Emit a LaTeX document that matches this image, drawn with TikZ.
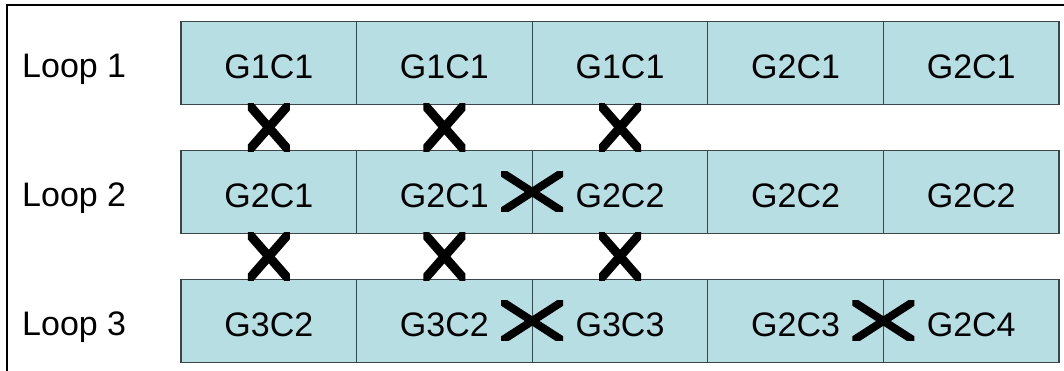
\documentclass[tikz,border=0pt]{standalone}
\usepackage{fontspec}
\setmainfont{Liberation Sans}
\usetikzlibrary{calc}
\definecolor{cellfill}{RGB}{183,222,227}
\definecolor{cellline}{RGB}{60,70,72}
\tikzset{
  cell/.style={draw=cellline, line width=1.3pt, fill=cellfill, minimum width=175.6pt,
    minimum height=83pt, inner sep=0pt, outer sep=0pt, anchor=center,
    text height=30.5pt, text depth=0pt,
    font=\fontsize{34}{40}\selectfont},
  looplabel/.style={anchor=base west, inner sep=0pt, font=\fontsize{34}{40}\selectfont},
  crossline/.style={line width=#1, line cap=butt, black},
  pics/xcross/.style n args={3}{code={
    \begin{scope}
      \clip (-#1,-#2) rectangle (#1,#2);
      \draw[crossline=#3] (-1.5*#1,-1.5*#2) -- (1.5*#1,1.5*#2)
                          (-1.5*#1,1.5*#2) -- (1.5*#1,-1.5*#2);
    \end{scope}}}
}
\begin{document}
\begin{tikzpicture}[x=1pt,y=1pt]
  \useasboundingbox (0,0) rectangle (1064,371);
  % frame (top and left edges)
  \draw[line width=2pt, black] (7,0) -- (7,366) -- (1064,366);

  % rows of cells
  \foreach \r/\yc/\a/\b/\c/\d/\e in {1/308/G1C1/G1C1/G1C1/G2C1/G2C1,
                                     2/179/G2C1/G2C1/G2C2/G2C2/G2C2,
                                     3/50/G3C2/G3C2/G3C3/G2C3/G2C4}{
    \node[cell] (r\r c1) at (181+87.8,\yc) {\a};
    \node[cell] (r\r c2) at (181+87.8+175.6,\yc) {\b};
    \node[cell] (r\r c3) at (181+87.8+2*175.6,\yc) {\c};
    \node[cell] (r\r c4) at (181+87.8+3*175.6,\yc) {\d};
    \node[cell] (r\r c5) at (181+87.8+4*175.6,\yc) {\e};
  }

  % loop labels
  \node[looplabel] (l1) at (22,308-15) {Loop 1};
  \node[looplabel] (l2) at (22,179-15) {Loop 2};
  \node[looplabel] (l3) at (22,50-15) {Loop 3};

  % crosses between rows
  \foreach \c in {1,2,3}{
    \pic at ($(r1c\c.south)!0.5!(r2c\c.north)$) {xcross={21}{24}{9pt}};
    \pic at ($(r2c\c.south)!0.5!(r3c\c.north)$) {xcross={21}{24}{9pt}};
  }

  % crosses between neighbouring cells
  \pic at (r2c2.east) {xcross={31}{20}{8pt}};
  \pic at (r3c2.east) {xcross={31}{20}{8pt}};
  \pic at (r3c4.east) {xcross={31}{20}{8pt}};
\end{tikzpicture}
\end{document}
